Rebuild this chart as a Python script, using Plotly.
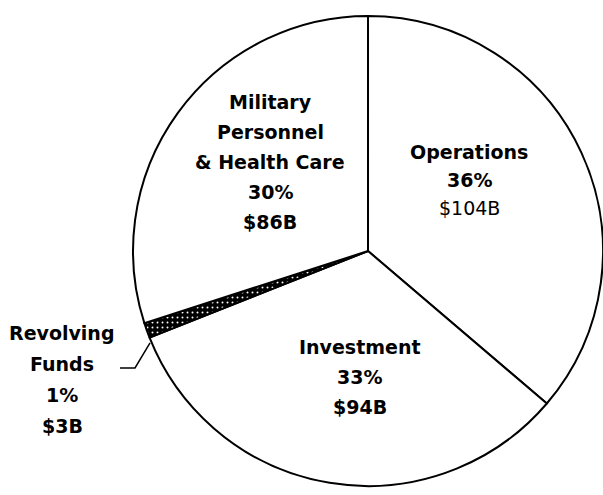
import plotly.graph_objects as go

# Defense budget shares (billions of dollars)
categories = ["Operations", "Investment", "Revolving Funds", "Military Personnel & Health Care"]
values = [104, 94, 3, 86]
percent_labels = ["36%", "33%", "1%", "30%"]
amount_labels = ["$104B", "$94B", "$3B", "$86B"]
name_lines = [["Operations"], ["Investment"], ["Revolving", "Funds"],
              ["Military", "Personnel", "& Health Care"]]

W, H = 603, 495

fills = ["white", "white", "black", "white"]
pattern_shapes = ["", "", ".", ""]

fig = go.Figure(go.Pie(
    labels=categories,
    values=values,
    sort=False,
    direction="clockwise",
    rotation=0,
    textinfo="none",
    hoverinfo="label+value+percent",
    marker=dict(
        colors=fills,
        line=dict(color="black", width=2),
        pattern=dict(shape=pattern_shapes, fgcolor="white", bgcolor="black",
                     size=5, solidity=0.12),
    ),
    domain=dict(x=[0.2206, 1.0], y=[0.0, 0.9858]),
    showlegend=False,
))

# label block placement: (center x px, first line y px, line spacing px)
label_pos = [(469, 152, 28), (360, 347, 30), (62, 333, 31), (270, 102, 30)]
regular_lines = {"$104B"}

annotations = []
for names, pct, amt, (cx, y0, dy) in zip(name_lines, percent_labels, amount_labels, label_pos):
    lines = names + [pct, amt]
    for i, txt in enumerate(lines):
        weight = "normal" if txt in regular_lines else "bold"
        annotations.append(dict(
            x=cx / W, y=1 - (y0 + i * dy) / H, xref="paper", yref="paper",
            text=txt, showarrow=False, xanchor="center", yanchor="middle",
            font=dict(family="DejaVu Sans", size=19, color="black", weight=weight),
        ))

# leader line for the small slice
leader = [(120, 368), (135, 368), (150, 343)]
path = "M " + " L ".join(f"{x / W:.4f},{1 - y / H:.4f}" for x, y in leader)

fig.update_layout(
    width=W, height=H,
    margin=dict(l=0, r=0, t=0, b=0),
    paper_bgcolor="white",
    plot_bgcolor="white",
    annotations=annotations,
    shapes=[dict(type="path", path=path, xref="paper", yref="paper",
                 line=dict(color="black", width=1.5))],
)

fig.write_html("out.html")
